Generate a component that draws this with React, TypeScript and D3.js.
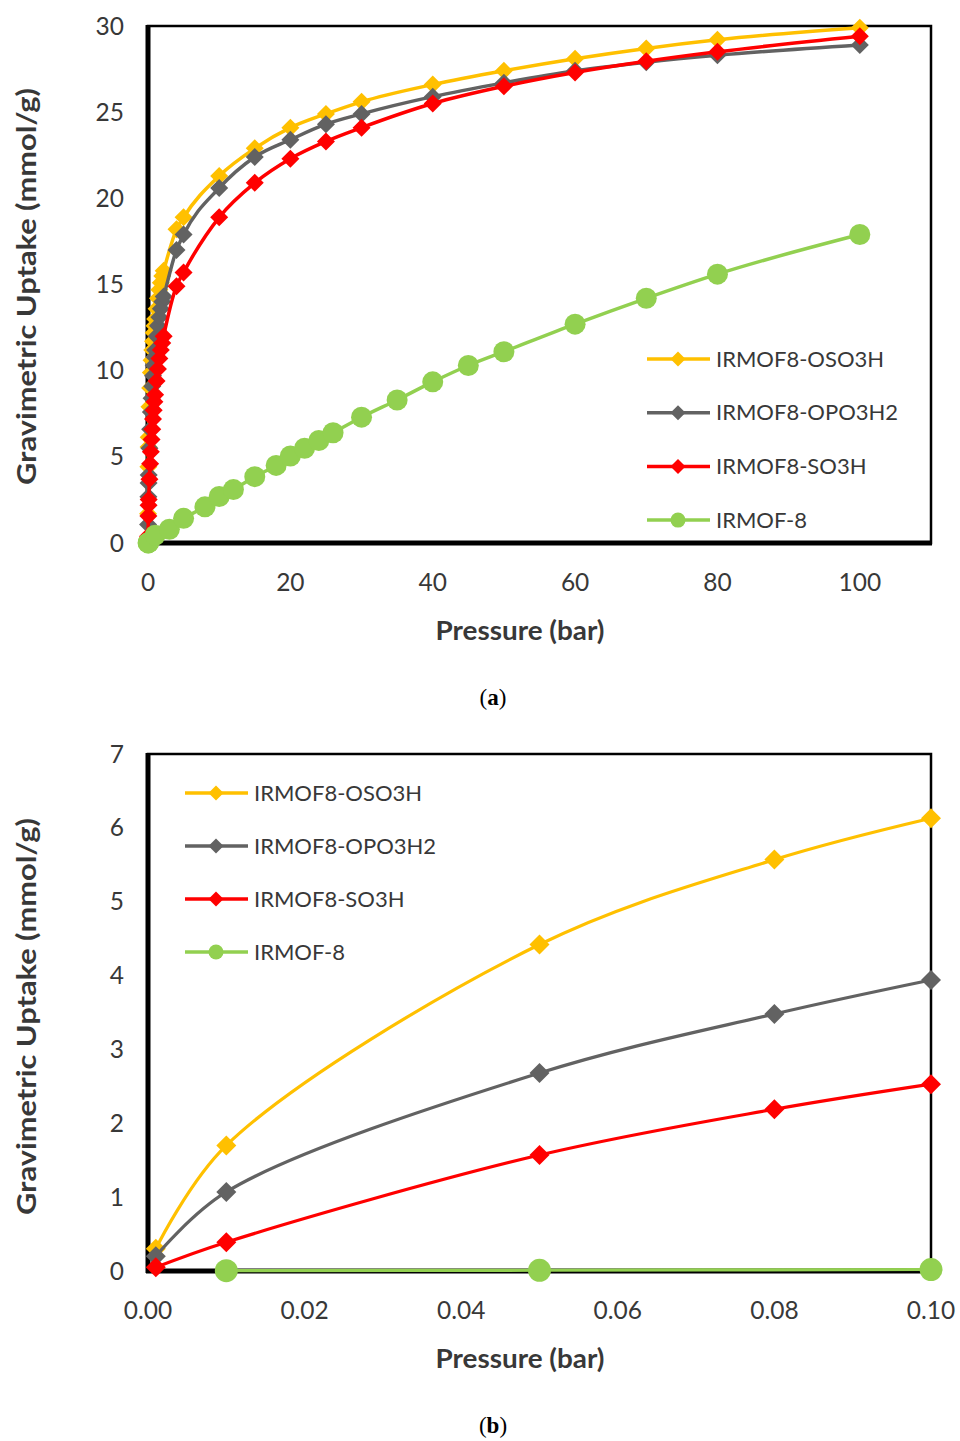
import React, { useEffect, useRef } from "react";
import * as d3 from "d3";

const seriesNames = ["IRMOF8-OSO3H", "IRMOF8-OPO3H2", "IRMOF8-SO3H", "IRMOF-8"];
const seriesColors = ["#FFC000", "#626262", "#FF0000", "#92D050"];
const seriesShapes = ["diamond", "diamond", "diamond", "circle"];

// (a) 0 - 100 bar
const pressureA = [0.001, 0.01, 0.05, 0.08, 0.1, 0.2, 0.3, 0.4, 0.5, 0.6, 0.7, 0.8, 0.9, 1, 1.2, 1.4, 1.6, 1.8, 2, 2.2, 4, 5, 10, 15, 20, 25, 30, 40, 50, 60, 70, 80, 100];
const oso3hA = [0.3, 1.7, 4.42, 5.57, 6.13, 7.9, 9.0, 9.9, 10.6, 11.2, 11.7, 12.2, 12.6, 13.0, 13.6, 14.2, 14.7, 15.1, 15.5, 15.8, 18.2, 18.9, 21.3, 22.9, 24.1, 24.9, 25.6, 26.6, 27.4, 28.1, 28.7, 29.2, 29.9];
const opo3h2A = [0.2, 1.07, 2.68, 3.48, 3.94, 5.5, 6.6, 7.6, 8.4, 9.1, 9.7, 10.3, 10.8, 11.2, 12.0, 12.6, 13.1, 13.6, 14.0, 14.3, 17.0, 17.9, 20.6, 22.4, 23.4, 24.3, 24.9, 25.9, 26.7, 27.4, 27.9, 28.3, 28.9];
const so3hA = [0.05, 0.39, 1.57, 2.19, 2.53, 3.7, 4.6, 5.3, 6.0, 6.6, 7.2, 7.7, 8.2, 8.6, 9.4, 10.1, 10.7, 11.2, 11.6, 12.0, 14.9, 15.7, 18.9, 20.9, 22.3, 23.3, 24.1, 25.5, 26.5, 27.3, 27.95, 28.5, 29.4];
const pressureIrmof8A = [0.01, 0.05, 0.1, 1, 3, 5, 8, 10, 12, 15, 18, 20, 22, 24, 26, 30, 35, 40, 45, 50, 60, 70, 80, 100];
const irmof8A = [0.005, 0.01, 0.02, 0.45, 0.8, 1.43, 2.1, 2.7, 3.1, 3.85, 4.5, 5.05, 5.5, 5.95, 6.4, 7.3, 8.3, 9.35, 10.3, 11.1, 12.7, 14.2, 15.6, 17.9];

// (b) 0 - 0.1 bar
const pressureB = [0.001, 0.01, 0.05, 0.08, 0.1];
const oso3hB = [0.3, 1.7, 4.42, 5.57, 6.13];
const opo3h2B = [0.2, 1.07, 2.68, 3.48, 3.94];
const so3hB = [0.05, 0.39, 1.57, 2.19, 2.53];
const pressureIrmof8B = [0.01, 0.05, 0.1];
const irmof8B = [0.005, 0.01, 0.02];

const xTicksA = [0, 20, 40, 60, 80, 100];
const yTicksA = [0, 5, 10, 15, 20, 25, 30];
const xTicksB = [0, 0.02, 0.04, 0.06, 0.08, 0.1];
const yTicksB = [0, 1, 2, 3, 4, 5, 6, 7];

const FONT = "Lato, 'Open Sans', sans-serif";
const TEXT = "#383838";

const zip = (xs: number[], ys: number[]) => xs.map((x, i) => ({ x, y: ys[i] }));
const diamond = (r: number) => `M0,${-r}L${r},0L0,${r}L${-r},0Z`;

function drawPanel(svg: any, cfg: any) {
  const { top, bottom, left, right, xDomain, yDomain, xTicks, yTicks, xFmt, series, curve, lw, mr, legend, caption } = cfg;
  const x = d3.scaleLinear().domain(xDomain).range([left, right]);
  const y = d3.scaleLinear().domain(yDomain).range([bottom, top]);
  const g = svg.append("g");

  // frame
  g.append("rect").attr("x", left).attr("y", top).attr("width", right - left).attr("height", bottom - top)
    .attr("fill", "none").attr("stroke", "#000").attr("stroke-width", 2.5);
  g.append("line").attr("x1", left).attr("x2", left).attr("y1", top - 1).attr("y2", bottom + 2)
    .attr("stroke", "#000").attr("stroke-width", 5);
  g.append("line").attr("x1", left - 2).attr("x2", right + 1).attr("y1", bottom).attr("y2", bottom)
    .attr("stroke", "#000").attr("stroke-width", 5);

  // tick labels
  g.selectAll(".yt").data(yTicks).enter().append("text")
    .attr("x", left - 24).attr("y", (d: number) => y(d)).attr("dy", "0.35em")
    .attr("text-anchor", "end").attr("font-family", FONT).attr("font-size", 24.5).attr("fill", TEXT)
    .text((d: number) => d);
  g.selectAll(".xt").data(xTicks).enter().append("text")
    .attr("x", (d: number) => x(d)).attr("y", bottom + 39).attr("dy", "0.35em")
    .attr("text-anchor", "middle").attr("font-family", FONT).attr("font-size", 24.5).attr("fill", TEXT)
    .text(xFmt);

  // axis titles
  g.append("text").attr("x", 520).attr("y", bottom + 88).attr("dy", "0.35em").attr("text-anchor", "middle")
    .attr("font-family", FONT).attr("font-weight", "bold").attr("font-size", 26).attr("fill", TEXT)
    .attr("textLength", 169).attr("lengthAdjust", "spacingAndGlyphs")
    .text("Pressure (bar)");
  g.append("text").attr("transform", `translate(27,${(top + bottom) / 2 + cfg.yTitleShift}) rotate(-90)`).attr("dy", "0.35em")
    .attr("text-anchor", "middle").attr("font-family", FONT).attr("font-weight", "bold").attr("font-size", 26)
    .attr("textLength", 397).attr("lengthAdjust", "spacingAndGlyphs")
    .attr("fill", TEXT).text("Gravimetric Uptake (mmol/g)");

  // series
  series.forEach((s: any, i: number) => {
    const pts = zip(s.x, s.y);
    const line = d3.line<any>().x((d) => x(d.x)).y((d) => y(d.y)).curve(curve);
    g.append("path").attr("d", line(pts)).attr("fill", "none").attr("stroke", seriesColors[i])
      .attr("stroke-width", lw).attr("stroke-linejoin", "round");
    const m = g.selectAll(".m" + i).data(pts).enter();
    if (seriesShapes[i] === "circle") {
      m.append("circle").attr("cx", (d: any) => x(d.x)).attr("cy", (d: any) => y(d.y)).attr("r", mr + 1.5)
        .attr("fill", seriesColors[i]);
    } else {
      m.append("path").attr("d", diamond(mr)).attr("fill", seriesColors[i])
        .attr("transform", (d: any) => `translate(${x(d.x)},${y(d.y)})`);
    }
  });

  // legend
  seriesNames.forEach((name, i) => {
    const ly = legend.y + i * legend.gap;
    g.append("line").attr("x1", legend.x).attr("x2", legend.x + 63).attr("y1", ly).attr("y2", ly)
      .attr("stroke", seriesColors[i]).attr("stroke-width", 3.5);
    if (seriesShapes[i] === "circle") {
      g.append("circle").attr("cx", legend.x + 31).attr("cy", ly).attr("r", 7.5).attr("fill", seriesColors[i]);
    } else {
      g.append("path").attr("d", diamond(7.5)).attr("fill", seriesColors[i])
        .attr("transform", `translate(${legend.x + 31},${ly})`);
    }
    g.append("text").attr("x", legend.x + 69).attr("y", ly).attr("dy", "0.35em")
      .attr("font-family", FONT).attr("font-size", 22).attr("fill", TEXT).text(name);
  });

  // caption
  const cap = g.append("text").attr("x", 493).attr("y", caption).attr("dy", "0.35em").attr("text-anchor", "middle")
    .attr("font-family", "'Liberation Serif', 'Times New Roman', serif").attr("font-size", 23).attr("fill", "#000");
  cap.append("tspan").text("(");
  cap.append("tspan").attr("font-weight", "bold").text(cfg.tag);
  cap.append("tspan").text(")");
}

export default function App() {
  const ref = useRef<SVGSVGElement>(null);
  useEffect(() => {
    document.body.style.margin = "0";
    const svg = d3.select(ref.current);
    svg.selectAll("*").remove();
    drawPanel(svg, {
      top: 26, bottom: 543, left: 148, right: 931,
      xDomain: [0, 110], yDomain: [0, 30], xTicks: xTicksA, yTicks: yTicksA,
      xFmt: (d: number) => d3.format("d")(d),
      series: [
        { x: pressureA, y: oso3hA }, { x: pressureA, y: opo3h2A },
        { x: pressureA, y: so3hA }, { x: pressureIrmof8A, y: irmof8A },
      ],
      curve: d3.curveMonotoneX, lw: 3.5, mr: 9, yTitleShift: 2,
      legend: { x: 647, y: 359, gap: 53.7 }, caption: 697, tag: "a",
    });
    drawPanel(svg, {
      top: 754, bottom: 1271, left: 148, right: 931,
      xDomain: [0, 0.1], yDomain: [0, 7], xTicks: xTicksB, yTicks: yTicksB,
      xFmt: (d: number) => d3.format(".2f")(d),
      series: [
        { x: pressureB, y: oso3hB }, { x: pressureB, y: opo3h2B },
        { x: pressureB, y: so3hB }, { x: pressureIrmof8B, y: irmof8B },
      ],
      curve: d3.curveCatmullRom.alpha(0.5), lw: 3.2, mr: 10, yTitleShift: 4,
      legend: { x: 185, y: 793, gap: 53 }, caption: 1425, tag: "b",
    });
  }, []);
  return <svg ref={ref} width={960} height={1441} style={{ display: "block", background: "#fff" }} />;
}
